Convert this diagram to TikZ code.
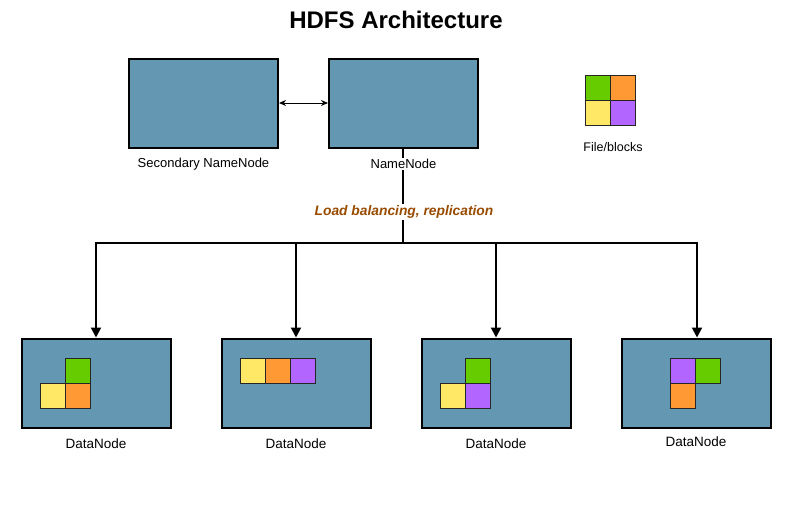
\documentclass[tikz,border=0pt]{standalone}
\usepackage{fontspec}
\setmainfont{Liberation Sans}
\usetikzlibrary{arrows.meta}
\definecolor{boxblue}{HTML}{6497B1}
\definecolor{bgreen}{HTML}{66CC00}
\definecolor{borange}{HTML}{FF9933}
\definecolor{byellow}{HTML}{FFE866}
\definecolor{bpurple}{HTML}{B266FF}
\definecolor{lbrown}{HTML}{994C00}
\begin{document}
\begin{tikzpicture}[x=1pt,y=-1pt,
 server/.style={draw=black, line width=2pt, fill=boxblue, minimum width=149pt, minimum height=89pt, inner sep=0pt},
 blk/.style={draw=black!85, line width=0.8pt, minimum size=25pt, inner sep=0pt},
 lbl/.style={font=\fontsize{13}{15}\selectfont, inner sep=1pt},
 dlbl/.style={font=\fontsize{13.5}{16}\selectfont, inner sep=1pt},
 conn/.style={line width=2pt, -{Triangle[width=10pt,length=10pt]}}
]
\useasboundingbox (0,0) rectangle (791,511);
\node[font=\fontsize{24}{28}\selectfont\bfseries] (title) at (396,20) {HDFS Architecture};
% name nodes
\node[server] (snn) at (203.5,103) {};
\node[server] (nn) at (403.5,103) {};
\draw[line width=1pt, {Stealth[length=7pt,width=6pt]}-{Stealth[length=7pt,width=6pt]}] (snn.east) -- (nn.west);
% connectors
\coordinate (junc) at (403,243);
\coordinate (j1) at (96,243);
\coordinate (j2) at (296,243);
\coordinate (j3) at (496,243);
\coordinate (j4) at (697,243);
\draw[line width=2.2pt] (nn.south -| junc) -- (junc);
\draw[line width=2pt, line cap=rect] (j1) -- (j4);
% labels on the trunk
\node[lbl] (snnl) at (203.5,164) {Secondary NameNode};
\node[lbl, fill=white] (nnl) at (403.5,164) {NameNode};
\node[font=\fontsize{13.8}{16}\selectfont\bfseries\itshape, text=lbrown, fill=white, inner sep=2pt] (lb) at (404,212) {Load balancing, replication};
% data nodes
\node[server] (dn1) at (96,383) {};
\node[server] (dn2) at (296,383) {};
\node[server] (dn3) at (496,383) {};
\node[server] (dn4) at (696,383) {};
\draw[conn] (j1) -- (dn1.north);
\draw[conn] (j2) -- (dn2.north);
\draw[conn] (j3) -- (dn3.north);
\draw[conn] (j4) -- (dn4.north -| j4);
\node[dlbl] (dn1l) at (96,444) {DataNode};
\node[dlbl] (dn2l) at (296,444) {DataNode};
\node[dlbl] (dn3l) at (496,444) {DataNode};
\node[dlbl] (dn4l) at (696,442) {DataNode};
% blocks in data nodes
\node[blk, fill=bgreen] (b11) at (78.2,370.8) {};
\node[blk, fill=byellow] (b12) at (53.2,395.8) {};
\node[blk, fill=borange] (b13) at (78.2,395.8) {};
\node[blk, fill=byellow] (b21) at (253.2,370.8) {};
\node[blk, fill=borange] (b22) at (278.2,370.8) {};
\node[blk, fill=bpurple] (b23) at (303.2,370.8) {};
\node[blk, fill=bgreen] (b31) at (478.2,370.8) {};
\node[blk, fill=byellow] (b32) at (453.2,395.8) {};
\node[blk, fill=bpurple] (b33) at (478.2,395.8) {};
\node[blk, fill=bpurple] (b41) at (683.2,370.8) {};
\node[blk, fill=bgreen] (b42) at (708.2,370.8) {};
\node[blk, fill=borange] (b43) at (683.2,395.8) {};
% legend
\node[blk, fill=bgreen] (lg1) at (597.8,88.2) {};
\node[blk, fill=borange] (lg2) at (622.8,88.2) {};
\node[blk, fill=byellow] (lg3) at (597.8,113.2) {};
\node[blk, fill=bpurple] (lg4) at (622.8,113.2) {};
\node[font=\fontsize{12.5}{15}\selectfont] (lgl) at (613,147) {File/blocks};
\end{tikzpicture}
\end{document}
